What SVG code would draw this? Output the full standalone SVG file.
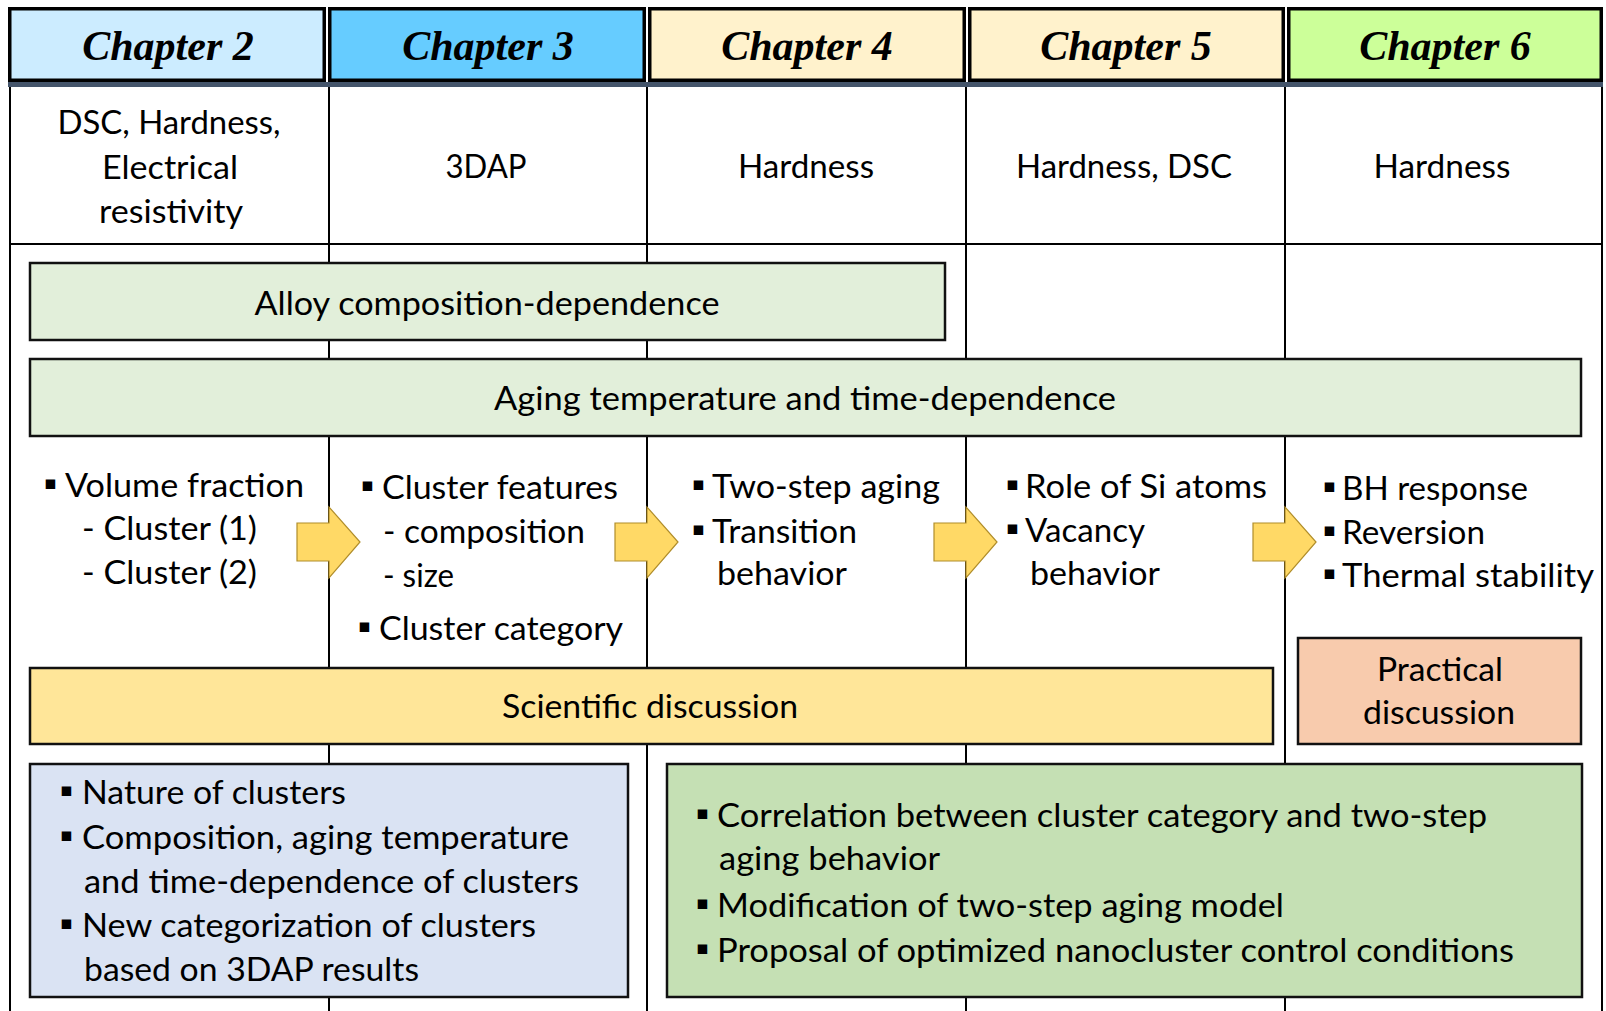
<svg xmlns="http://www.w3.org/2000/svg" width="1606" height="1011" viewBox="0 0 1606 1011">
<style>
.hd{font-family:"Liberation Serif","Times New Roman",serif;font-weight:bold;font-style:italic;font-size:42px;fill:#000;text-anchor:middle}
.t{font-family:Lato,"Liberation Sans",sans-serif;font-size:32.5px;fill:#000}
.c{text-anchor:middle}
.b{font-family:"DejaVu Sans",sans-serif;font-size:19px;fill:#000}
.grid{stroke:#000;stroke-width:2;fill:none}
.box{stroke:#111;stroke-width:2.5}
.hcell{stroke:#000;stroke-width:3.5}
.arrow{fill:#FFD966;stroke:#B08D2A;stroke-width:1.2}
</style>
<rect x="0" y="0" width="1606" height="1011" fill="#fff"/>

<g id="table">
  <path class="grid" d="M10,87V1011 M329,87V1011 M647,87V1011 M966,87V1011 M1285,87V1011 M1602,87V1011 M10,244H1602"/>
</g>

<g id="headers">
  <g id="ch2"><rect class="hcell" x="9.75" y="8.75" width="314.5" height="71.5" fill="#CCECFF"/><text class="hd" x="168" y="60">Chapter 2</text></g>
  <g id="ch3"><rect class="hcell" x="329.75" y="8.75" width="314.5" height="71.5" fill="#66CCFF"/><text class="hd" x="488" y="60">Chapter 3</text></g>
  <g id="ch4"><rect class="hcell" x="649.75" y="8.75" width="314.5" height="71.5" fill="#FFF2CC"/><text class="hd" x="807" y="60">Chapter 4</text></g>
  <g id="ch5"><rect class="hcell" x="969.75" y="8.75" width="313.5" height="71.5" fill="#FFF2CC"/><text class="hd" x="1126" y="60">Chapter 5</text></g>
  <g id="ch6"><rect class="hcell" x="1288.75" y="8.75" width="312.5" height="71.5" fill="#CCFF99"/><text class="hd" x="1445" y="60">Chapter 6</text></g>
  <rect x="8" y="82" width="1595" height="5" fill="#44546A"/>
</g>

<g id="methods">
  <g id="m2">
    <text class="t c" x="169" y="134" textLength="223" lengthAdjust="spacingAndGlyphs">DSC, Hardness,</text>
    <text class="t c" x="170" y="179" textLength="136" lengthAdjust="spacingAndGlyphs">Electrical</text>
    <text class="t c" x="171" y="223" textLength="144" lengthAdjust="spacingAndGlyphs">resistivity</text>
  </g>
  <g id="m3"><text class="t c" x="486" y="178" textLength="81" lengthAdjust="spacingAndGlyphs">3DAP</text></g>
  <g id="m4"><text class="t c" x="806" y="178" textLength="136" lengthAdjust="spacingAndGlyphs">Hardness</text></g>
  <g id="m5"><text class="t c" x="1124" y="178" textLength="216" lengthAdjust="spacingAndGlyphs">Hardness, DSC</text></g>
  <g id="m6"><text class="t c" x="1442" y="178" textLength="137" lengthAdjust="spacingAndGlyphs">Hardness</text></g>
</g>

<g id="alloy">
  <rect class="box" x="30" y="263" width="915" height="77" fill="#E2EFDA"/>
  <text class="t c" x="487" y="315" textLength="465" lengthAdjust="spacingAndGlyphs">Alloy composition-dependence</text>
</g>
<g id="aging">
  <rect class="box" x="30" y="359" width="1551" height="77" fill="#E2EFDA"/>
  <text class="t c" x="805" y="410" textLength="622" lengthAdjust="spacingAndGlyphs">Aging temperature and time-dependence</text>
</g>

<g id="connectors">
  <polygon class="arrow" points="297,523 329,523 329,507 360,542 329,578 329,561 297,561"/>
  <polygon class="arrow" points="615,523 647,523 647,507 678,542 647,578 647,561 615,561"/>
  <polygon class="arrow" points="934,523 966,523 966,507 997,542 966,578 966,561 934,561"/>
  <polygon class="arrow" points="1253,523 1285,523 1285,507 1316,542 1285,578 1285,561 1253,561"/>
</g>

<g id="topics2">
  <text class="b" x="44" y="489">▪</text>
  <text class="t" x="65" y="497" textLength="239" lengthAdjust="spacingAndGlyphs">Volume fraction</text>
  <text class="t" x="82" y="540" textLength="175" lengthAdjust="spacingAndGlyphs">- Cluster (1)</text>
  <text class="t" x="82" y="584" textLength="175" lengthAdjust="spacingAndGlyphs">- Cluster (2)</text>
</g>
<g id="topics3">
  <text class="b" x="361" y="491">▪</text>
  <text class="t" x="382" y="499" textLength="236" lengthAdjust="spacingAndGlyphs">Cluster features</text>
  <text class="t" x="383" y="543" textLength="202" lengthAdjust="spacingAndGlyphs">- composition</text>
  <text class="t" x="383" y="587" textLength="71" lengthAdjust="spacingAndGlyphs">- size</text>
  <text class="b" x="358" y="632">▪</text>
  <text class="t" x="379" y="640" textLength="244" lengthAdjust="spacingAndGlyphs">Cluster category</text>
</g>
<g id="topics4">
  <text class="b" x="692" y="490">▪</text>
  <text class="t" x="712" y="498" textLength="228" lengthAdjust="spacingAndGlyphs">Two-step aging</text>
  <text class="b" x="692" y="535">▪</text>
  <text class="t" x="712" y="543" textLength="145" lengthAdjust="spacingAndGlyphs">Transition</text>
  <text class="t" x="717" y="585" textLength="130" lengthAdjust="spacingAndGlyphs">behavior</text>
</g>
<g id="topics5">
  <text class="b" x="1006" y="490">▪</text>
  <text class="t" x="1025" y="498" textLength="242" lengthAdjust="spacingAndGlyphs">Role of Si atoms</text>
  <text class="b" x="1006" y="534">▪</text>
  <text class="t" x="1025" y="542" textLength="120" lengthAdjust="spacingAndGlyphs">Vacancy</text>
  <text class="t" x="1030" y="585" textLength="130" lengthAdjust="spacingAndGlyphs">behavior</text>
</g>
<g id="topics6">
  <text class="b" x="1323" y="492">▪</text>
  <text class="t" x="1342" y="500" textLength="186" lengthAdjust="spacingAndGlyphs">BH response</text>
  <text class="b" x="1323" y="536">▪</text>
  <text class="t" x="1342" y="544" textLength="143" lengthAdjust="spacingAndGlyphs">Reversion</text>
  <text class="b" x="1323" y="579">▪</text>
  <text class="t" x="1342" y="587" textLength="252" lengthAdjust="spacingAndGlyphs">Thermal stability</text>
</g>

<g id="scientific">
  <rect class="box" x="30" y="668" width="1243" height="76" fill="#FFE699"/>
  <text class="t c" x="650" y="718" textLength="296" lengthAdjust="spacingAndGlyphs">Scientific discussion</text>
</g>
<g id="practical">
  <rect class="box" x="1298" y="638" width="283" height="106" fill="#F8CBAD"/>
  <text class="t c" x="1440" y="681" textLength="126" lengthAdjust="spacingAndGlyphs">Practical</text>
  <text class="t c" x="1439" y="724" textLength="152" lengthAdjust="spacingAndGlyphs">discussion</text>
</g>

<g id="sci-results">
  <rect class="box" x="30" y="764" width="598" height="233" fill="#DAE3F3"/>
  <text class="b" x="60" y="796">▪</text>
  <text class="t" x="82" y="804" textLength="264" lengthAdjust="spacingAndGlyphs">Nature of clusters</text>
  <text class="b" x="60" y="841">▪</text>
  <text class="t" x="82" y="849" textLength="487" lengthAdjust="spacingAndGlyphs">Composition, aging temperature</text>
  <text class="t" x="84" y="893" textLength="495" lengthAdjust="spacingAndGlyphs">and time-dependence of clusters</text>
  <text class="b" x="60" y="929">▪</text>
  <text class="t" x="82" y="937" textLength="454" lengthAdjust="spacingAndGlyphs">New categorization of clusters</text>
  <text class="t" x="84" y="981" textLength="335" lengthAdjust="spacingAndGlyphs">based on 3DAP results</text>
</g>
<g id="practical-results">
  <rect class="box" x="667" y="764" width="915" height="233" fill="#C5E0B4"/>
  <text class="b" x="696" y="819">▪</text>
  <text class="t" x="717" y="827" textLength="770" lengthAdjust="spacingAndGlyphs">Correlation between cluster category and two-step</text>
  <text class="t" x="719" y="870" textLength="221" lengthAdjust="spacingAndGlyphs">aging behavior</text>
  <text class="b" x="696" y="909">▪</text>
  <text class="t" x="717" y="917" textLength="567" lengthAdjust="spacingAndGlyphs">Modification of two-step aging model</text>
  <text class="b" x="696" y="954">▪</text>
  <text class="t" x="717" y="962" textLength="797" lengthAdjust="spacingAndGlyphs">Proposal of optimized nanocluster control conditions</text>
</g>
</svg>
